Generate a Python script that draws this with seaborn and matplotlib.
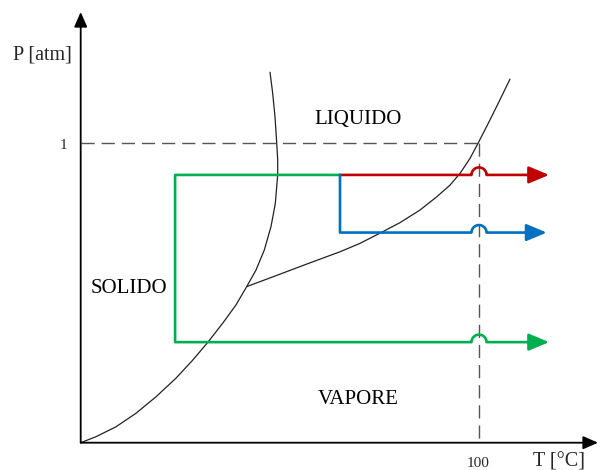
import numpy as np
import pandas as pd
import matplotlib
matplotlib.use("Agg")
import matplotlib.pyplot as plt
import seaborn as sns

# phase boundaries (T in degC, P in atm)
solid_T = [0.0, 3.84, 8.86, 13.88, 18.91, 23.93, 28.12, 31.89, 35.65, 38.99, 41.68,
           44.01, 46.10, 47.78, 48.86, 49.46, 49.46, 49.21, 48.78, 48.20, 47.53]
solid_P = [0.0, 0.020, 0.053, 0.098, 0.153, 0.215, 0.275, 0.334, 0.398, 0.459, 0.520,
           0.575, 0.642, 0.720, 0.797, 0.892, 0.942, 0.999, 1.086, 1.164, 1.234]

vapor_T = [41.68, 48.36, 56.74, 65.10, 70.12, 75.14, 80.16, 85.18, 89.38, 92.72,
           95.23, 97.74, 99.82, 102.33, 104.84, 107.78]
vapor_P = [0.520, 0.553, 0.595, 0.636, 0.664, 0.698, 0.733, 0.775, 0.819, 0.858,
           0.897, 0.947, 0.999, 1.064, 1.131, 1.211]

# transformation paths
p_high = 0.892
p_mid = 0.700
p_low = 0.335
t_green = 23.7
t_split = 65.1
t_boil = 100.0
p_ref = 1.0
tip_red = 117.6
tip_blue = 117.0
tip_green = 117.6

labels = {"LIQUIDO": (69.6, 1.062), "SOLIDO": (12.1, 0.498), "VAPORE": (69.6, 0.128)}

GREEN = "#00b050"
RED = "#c00000"
BLUE = "#0070c0"

sns.set_theme(style="white")
plt.rcParams["font.family"] = ["Liberation Serif", "DejaVu Serif"]

# px per data unit
sx = 3.983
sy = 300.2

fig = plt.figure(figsize=(5.98, 4.70), dpi=100)
ax = fig.add_axes([0, 0, 1, 1])
ax.set_xlim(-80.7 / sx, (598 - 80.7) / sx)
ax.set_ylim((442.7 - 470) / sy, 442.7 / sy)
ax.axis("off")


def hump(t_start, t_end, p):
    # horizontal run that hops over the dashed 100 degC line
    r = 7.5
    rx, ry = r / sx, r / sy
    a = np.linspace(np.pi, 0, 31)
    ts = np.concatenate([[t_start], t_boil + rx * np.cos(a), [t_end]])
    ps = np.concatenate([[p], p + ry * np.sin(a), [p]])
    return ts, ps


def draw_path(ts, ps, color, tip):
    df = pd.DataFrame({"T": ts, "P": ps})
    sns.lineplot(data=df, x="T", y="P", sort=False, estimator=None, color=color,
                 lw=1.9, ax=ax, solid_joinstyle="round", solid_capstyle="round")
    ax.annotate("", xy=(tip, ps[-1]), xytext=(ts[-1] - 0.5, ps[-1]),
                arrowprops=dict(arrowstyle="-|>,head_length=0.62,head_width=0.26",
                                color=color, lw=1.9, mutation_scale=20,
                                shrinkA=0, shrinkB=0))


# dashed reference lines at 1 atm / 100 degC
ax.plot([0, t_boil], [p_ref, p_ref], color="#555555", lw=1.0, dashes=(9.5, 5))
ax.plot([t_boil, t_boil], [p_ref, 0], color="#555555", lw=1.0, dashes=(9.5, 5))

# phase curves
sns.lineplot(x=solid_T, y=solid_P, sort=False, estimator=None, color="#222222", lw=0.9, ax=ax)
sns.lineplot(x=vapor_T, y=vapor_P, sort=False, estimator=None, color="#222222", lw=0.9, ax=ax)

# green path
ts, ps = hump(t_green, tip_green - 5, p_low)
draw_path(np.concatenate([[t_split, t_green], ts]),
          np.concatenate([[p_high, p_high], ps]), GREEN, tip_green)
# red path
ts, ps = hump(t_split, tip_red - 5, p_high)
draw_path(ts, ps, RED, tip_red)
# blue path
ts, ps = hump(t_split, tip_blue - 5, p_mid)
draw_path(np.concatenate([[t_split], ts]), np.concatenate([[p_high], ps]), BLUE, tip_blue)

# axes with arrows
ax.annotate("", xy=((598 - 80.7) / sx, 0), xytext=(0, 0),
            arrowprops=dict(arrowstyle="-|>,head_length=0.5,head_width=0.22",
                            color="black", lw=1.3, mutation_scale=18, shrinkA=0, shrinkB=0))
ax.annotate("", xy=(0, (442.7 - 12) / sy), xytext=(0, 0),
            arrowprops=dict(arrowstyle="-|>,head_length=0.5,head_width=0.22",
                            color="black", lw=1.3, mutation_scale=18, shrinkA=0, shrinkB=0))

for name, (tx, py) in labels.items():
    ax.text(tx, py, name, ha="center", va="baseline", fontsize=15, color="black")

ax.text(-9.54, 1.277, "P [atm]", ha="center", va="baseline", fontsize=14.5)
ax.text(120.1, -0.078, "T [°C]", ha="center", va="baseline", fontsize=14.5)
ax.text(-4.2, 0.978, "1", ha="center", va="baseline", fontsize=11)
ax.text(99.75, -0.080, "100", ha="center", va="baseline", fontsize=11)

fig.savefig("out.png", dpi=100)
